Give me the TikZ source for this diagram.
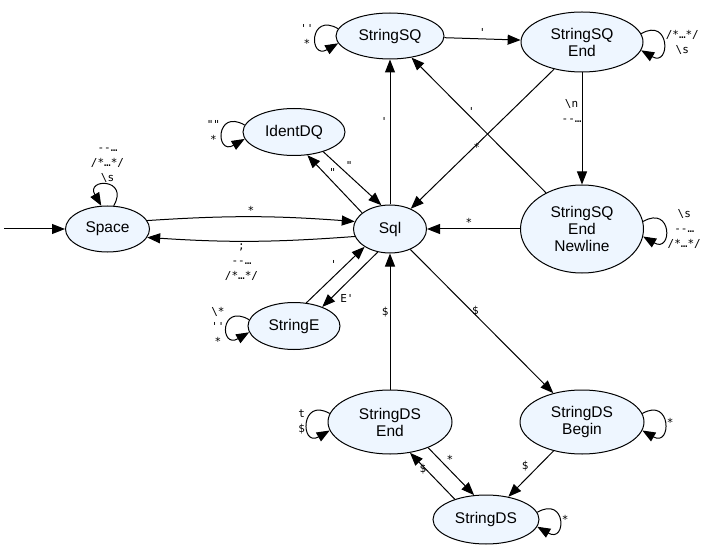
\documentclass[tikz,border=0pt]{standalone}
\usepackage{fontspec}
\setmainfont{Liberation Sans}
\setmonofont{DejaVu Sans Mono}
\usepackage{tikz}
\usetikzlibrary{arrows.meta,positioning,shapes.geometric,calc}
\definecolor{statefill}{HTML}{EEF6FF}

\begin{document}
\begin{tikzpicture}[
    x=1pt, y=1pt,
    >={Triangle[length=13pt,width=10pt]},
    font=\fontsize{15.5}{17}\selectfont,
    state/.style={draw, ellipse, fill=statefill, line width=1pt, inner sep=0pt, align=center},
    trans/.style={->, line width=1pt},
    lbl/.style={font=\fontsize{11}{15}\selectfont\ttfamily, inner sep=2pt, align=center}
]
    \useasboundingbox (0,0) rectangle (709,547);

    % States
    \node [state, minimum width=73pt, minimum height=48pt] (Sql) at (390,318) {Sql};
    \node [state, minimum width=84pt, minimum height=46pt, left=203pt of Sql] (Space) {Space};
    \node [state, minimum width=108pt, minimum height=46pt, above=145pt of Sql] (StringSQ) {StringSQ};
    \node [state, minimum width=123pt, minimum height=88pt, right=93pt of Sql] (SQNewline) {StringSQ\\End\\Newline};
    \node [state, minimum width=122pt, minimum height=60pt, above=112pt of SQNewline] (SQEnd) {StringSQ\\End};
    \node [state, minimum width=102pt, minimum height=47pt] (IdentDQ) at (294,415) {IdentDQ};
    \node [state, minimum width=92pt, minimum height=47pt] (StringE) at (294,221) {StringE};
    \node [state, minimum width=124pt, minimum height=64pt, below=136pt of Sql] (DSEnd) {StringDS\\End};
    \node [state, minimum width=124pt, minimum height=64pt, below=116pt of SQNewline] (DSBegin) {StringDS\\Begin};
    \coordinate (dsmid) at ($(DSEnd.south)!0.5!(DSBegin.south)$);
    \node [state, minimum width=106pt, minimum height=49pt, below=40pt of dsmid] (StringDS) {StringDS};

    % Transitions
    \coordinate [left=61pt of Space.west] (start);
    \draw[trans] (start) -- (Space);
    \draw[trans] (Space.12) to[bend left=4] node[lbl, above] {*} (Sql.168);
    \draw[trans] (Sql.192) to[bend left=4] node[lbl, below, pos=0.55] {;\\--…\\/*…*/} (Space.-12);
    \draw[trans] (Space.75) to[out=60, in=120, distance=32pt] node[lbl, above] {--…\\/*…*/\\\textbackslash s} (Space.105);

    \draw[trans] (IdentDQ.-34) -- node[lbl, pos=0.36, above right=-1pt] {"} (Sql.110);
    \draw[trans] (Sql.150) -- node[lbl, pos=0.62, above right=-2pt] {"} (IdentDQ.-60);
    \draw[trans] (IdentDQ.172) to[out=150, in=210, distance=34pt] node[lbl, left] {""\\*} (IdentDQ.188);

    \draw[trans] (Sql) -- node[lbl, pos=0.57, left] {'} (StringSQ);
    \draw[trans] (StringSQ.172) to[out=150, in=210, distance=34pt] node[lbl, left] {''\\*} (StringSQ.188);
    \draw[trans] (StringSQ) -- node[lbl, above] {'} (SQEnd);
    \draw[trans] (SQEnd.8) to[out=30, in=-30, distance=34pt] node[lbl, right] {/*…*/\\\textbackslash s} (SQEnd.-8);
    \draw[trans] (SQEnd) -- node[lbl, pos=0.54, below=-4pt] {*} (Sql);
    \draw[trans] (SQEnd) -- node[lbl, pos=0.34, left, inner sep=0pt] {\textbackslash n\\--…} (SQNewline);
    \draw[trans] (SQNewline) -- node[lbl, pos=0.555, above] {'} (StringSQ);
    \draw[trans] (SQNewline) -- node[lbl, pos=0.55, above] {*} (Sql);
    \draw[trans] (SQNewline.7) to[out=30, in=-30, distance=34pt] node[lbl, right] {\textbackslash s\\--…\\/*…*/} (SQNewline.-7);

    \draw[trans] (Sql.-118) -- node[lbl, pos=0.72, below right=0pt] {E'} (StringE.34);
    \draw[trans] (StringE.62) -- node[lbl, pos=0.57, above left=0pt] {'} (Sql.-145);
    \draw[trans] (StringE.172) to[out=150, in=210, distance=34pt] node[lbl, left] {\textbackslash *\\''\\*} (StringE.188);

    \draw[trans] (DSEnd) -- node[lbl, pos=0.57, left, inner sep=1pt] {\$} (Sql);
    \draw[trans] (Sql) -- node[lbl, pos=0.455, above=-4pt] {\$} (DSBegin);
    \draw[trans] (DSEnd.172) to[out=150, in=210, distance=34pt] node[lbl, left] {t\\\$} (DSEnd.188);
    \draw[trans] (DSBegin.8) to[out=30, in=-30, distance=34pt] node[lbl, right] {*} (DSBegin.-8);
    \draw[trans] (DSEnd.-34) -- node[lbl, pos=0.36, above right=-1pt] {*} (StringDS.116);
    \draw[trans] (StringDS.147) -- node[lbl, pos=0.65, left=-3pt] {\$} (DSEnd.-57);
    \draw[trans] (DSBegin) -- node[lbl, pos=0.5, above left=0pt] {\$} (StringDS);
    \draw[trans] (StringDS.8) to[out=30, in=-30, distance=34pt] node[lbl, right] {*} (StringDS.-8);
\end{tikzpicture}
\end{document}
